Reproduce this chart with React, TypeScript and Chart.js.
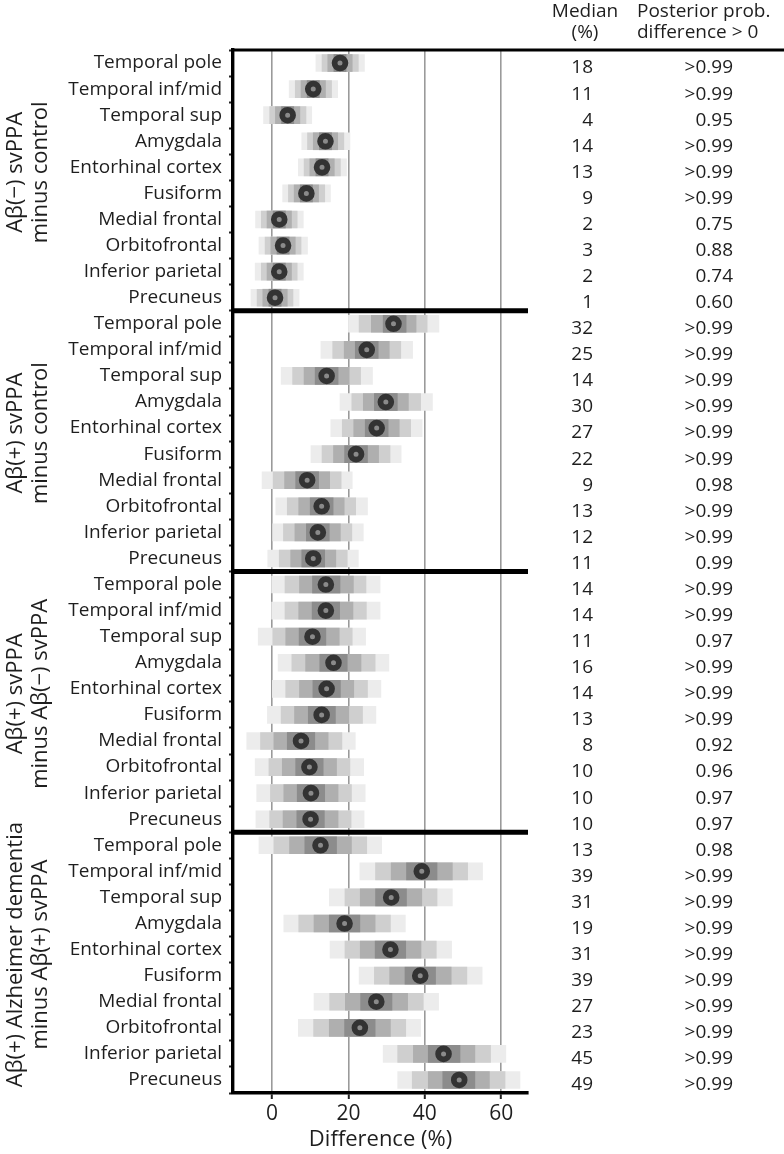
import React, { useEffect, useRef } from "react";
import { Chart, registerables } from "chart.js";
Chart.register(...registerables);

const regions = [
  "Temporal pole", "Temporal inf/mid", "Temporal sup", "Amygdala", "Entorhinal cortex",
  "Fusiform", "Medial frontal", "Orbitofrontal", "Inferior parietal", "Precuneus",
];
const comparisons = [
  ["Aβ(−) svPPA", "minus control"],
  ["Aβ(+) svPPA", "minus control"],
  ["Aβ(+) svPPA", "minus Aβ(−) svPPA"],
  ["Aβ(+) Alzheimer dementia", "minus Aβ(+) svPPA"],
];
const xTicks = [0, 20, 40, 60];

const median = [
  17.8, 10.8, 4.1, 14.0, 13.1, 9.0, 1.9, 2.9, 1.9, 0.8,
  31.8, 24.8, 14.3, 29.8, 27.4, 22.0, 9.2, 13.0, 12.0, 10.8,
  14.1, 14.1, 10.6, 16.1, 14.3, 13.0, 7.6, 9.8, 10.2, 10.1,
  12.7, 39.2, 31.2, 19.0, 31.0, 38.8, 27.3, 23.0, 44.9, 49.0,
];
const lo95 = [
  11.5, 4.5, -2.2, 7.8, 6.9, 2.8, -4.3, -3.4, -4.4, -5.5,
  20.0, 12.8, 2.4, 17.8, 15.4, 10.2, -2.6, 1.0, 0.0, -1.1,
  -0.1, -0.1, -3.6, 1.6, 0.1, -1.2, -6.6, -4.4, -4.0, -4.2,
  -3.4, 23.0, 15.0, 3.1, 15.2, 22.8, 11.0, 6.9, 29.1, 32.9,
];
const lo90 = [
  13.1, 6.1, -0.6, 9.3, 8.4, 4.3, -2.8, -1.8, -2.8, -3.9,
  22.8, 15.9, 5.4, 20.9, 18.4, 13.1, 0.3, 4.0, 3.0, 1.9,
  3.4, 3.4, 0.0, 5.2, 3.6, 2.4, -3.0, -0.8, -0.4, -0.6,
  0.5, 27.1, 19.1, 7.0, 19.1, 26.8, 15.1, 10.9, 32.9, 36.7,
];
const lo80 = [
  14.6, 7.6, 0.9, 10.8, 9.9, 5.8, -1.3, -0.3, -1.3, -2.4,
  26.0, 18.9, 8.4, 23.9, 21.4, 16.1, 3.3, 7.0, 6.0, 4.9,
  7.2, 7.0, 3.6, 8.8, 7.2, 5.9, 0.5, 2.7, 3.1, 2.9,
  4.6, 31.2, 23.1, 11.0, 23.1, 30.8, 19.2, 15.0, 37.0, 40.9,
];
const lo50 = [
  16.2, 9.2, 2.5, 12.4, 11.5, 7.4, 0.3, 1.3, 0.3, -0.8,
  29.1, 21.8, 11.3, 26.8, 24.4, 19.0, 6.2, 10.0, 9.0, 7.8,
  10.6, 10.5, 7.1, 12.5, 10.7, 9.5, 4.0, 6.2, 6.6, 6.5,
  8.6, 35.2, 27.1, 15.0, 27.0, 34.8, 23.2, 19.0, 40.9, 44.7,
];
const hi50 = [
  19.4, 12.4, 5.7, 15.6, 14.7, 10.6, 3.5, 4.5, 3.5, 2.4,
  35.1, 27.8, 17.3, 32.8, 30.4, 25.0, 12.2, 16.0, 15.0, 13.8,
  17.8, 17.7, 14.1, 19.7, 17.9, 16.6, 11.2, 13.4, 13.8, 13.7,
  16.9, 43.2, 35.2, 23.0, 35.0, 42.8, 31.4, 27.0, 49.2, 53.1,
];
const hi80 = [
  21.0, 14.0, 7.3, 17.2, 16.3, 12.2, 5.1, 6.1, 5.1, 4.0,
  37.7, 30.7, 20.2, 35.7, 33.3, 27.9, 15.1, 18.9, 17.9, 16.7,
  21.3, 21.2, 17.6, 23.3, 21.4, 20.1, 14.7, 16.9, 17.3, 17.3,
  20.8, 47.2, 39.2, 27.0, 39.0, 46.9, 35.5, 31.0, 53.1, 56.9,
];
const hi90 = [
  22.6, 15.6, 8.9, 18.8, 17.9, 13.8, 6.6, 7.6, 6.6, 5.5,
  40.6, 33.7, 23.2, 38.9, 36.3, 30.9, 18.1, 21.9, 20.9, 19.7,
  24.6, 24.7, 21.0, 27.0, 25.0, 23.7, 18.3, 20.4, 20.8, 20.7,
  24.8, 51.2, 43.2, 31.0, 43.0, 51.0, 39.6, 35.0, 57.2, 61.0,
];
const hi95 = [
  24.2, 17.2, 10.4, 20.4, 19.5, 15.3, 8.2, 9.3, 8.2, 7.1,
  43.7, 36.8, 26.3, 42.0, 39.3, 33.8, 21.0, 25.0, 23.9, 22.6,
  28.3, 28.3, 24.5, 30.6, 28.5, 27.2, 21.8, 24.0, 24.4, 24.1,
  28.7, 55.1, 47.2, 34.9, 47.0, 55.0, 43.6, 38.9, 61.2, 64.9,
];
const medianText = [
  "18", "11", "4", "14", "13", "9", "2", "3", "2", "1",
  "32", "25", "14", "30", "27", "22", "9", "13", "12", "11",
  "14", "14", "11", "16", "14", "13", "8", "10", "10", "10",
  "13", "39", "31", "19", "31", "39", "27", "23", "45", "49",
];
const probText = [
  ">0.99", ">0.99", "0.95", ">0.99", ">0.99", ">0.99", "0.75", "0.88", "0.74", "0.60",
  ">0.99", ">0.99", ">0.99", ">0.99", ">0.99", ">0.99", "0.98", ">0.99", ">0.99", "0.99",
  ">0.99", ">0.99", "0.97", ">0.99", ">0.99", ">0.99", "0.92", "0.96", "0.97", "0.97",
  "0.98", ">0.99", ">0.99", ">0.99", ">0.99", ">0.99", ">0.99", ">0.99", ">0.99", ">0.99",
];

const FONT = '"Open Sans", "Noto Sans", sans-serif';
const TEXT = "#1e1e1e";

const overlay = {
  id: "overlay",
  afterDraw(chart: any) {
    const ctx = chart.ctx;
    const { left, right, top } = chart.chartArea;
    const ys = chart.scales.y;
    ctx.save();
    ctx.fillStyle = "#000";
    // top rule across plot and table
    ctx.fillRect(left - 1.5, top - 1.5, 784 - left + 1.5, 3);
    // panel separators
    for (let p = 1; p < comparisons.length; p++) {
      const yy = (ys.getPixelForValue(p * 10 - 1) + ys.getPixelForValue(p * 10)) / 2;
      ctx.fillRect(left - 1.5, yy - 2.5, right - left + 1.5, 5);
    }
    // group titles
    ctx.fillStyle = TEXT;
    ctx.font = `22px ${FONT}`;
    ctx.textAlign = "center";
    ctx.textBaseline = "middle";
    comparisons.forEach((lines, p) => {
      const yc = (ys.getPixelForValue(p * 10) + ys.getPixelForValue(p * 10 + 9)) / 2 - 8;
      const xs = [16, 41];
      lines.forEach((t, k) => {
        ctx.save();
        ctx.translate(xs[k], yc);
        ctx.rotate(-Math.PI / 2);
        ctx.fillText(t, 0, 0);
        ctx.restore();
      });
    });
    // table header
    ctx.font = `19px ${FONT}`;
    ctx.textAlign = "center";
    ctx.fillText("Median", 585, 12);
    ctx.fillText("(%)", 585, 33);
    ctx.textAlign = "left";
    ctx.fillText("Posterior prob.", 637, 12);
    ctx.fillText("difference > 0", 637, 33);
    // table rows
    ctx.textAlign = "right";
    for (let i = 0; i < median.length; i++) {
      const y = ys.getPixelForValue(i) + 5;
      ctx.fillText(medianText[i], 593, y);
      ctx.fillText(probText[i], 733, y);
    }
    ctx.restore();
  },
};

export default function App() {
  const ref = useRef<HTMLCanvasElement | null>(null);
  useEffect(() => {
    document.body.style.margin = "0";
    const labels = comparisons.flatMap(() => regions);
    const pair = (a: number[], b: number[]) => a.map((v, i) => [v, b[i]]);
    const barBase = { grouped: false, barThickness: 17, borderWidth: 0 };
    const chart = new Chart(ref.current as HTMLCanvasElement, {
      type: "bar",
      data: {
        labels,
        datasets: [
          {
            type: "line",
            label: "Median",
            data: median,
            indexAxis: "y",
            showLine: false,
            pointRadius: 5.4,
            pointHoverRadius: 5.4,
            pointBorderWidth: 5.8,
            pointBackgroundColor: "#8a8a8a",
            pointBorderColor: "#333333",
            order: 0,
          } as any,
          { label: "50%", data: pair(lo50, hi50), backgroundColor: "#8c8c8c", order: 1, ...barBase },
          { label: "80%", data: pair(lo80, hi80), backgroundColor: "#afafaf", order: 2, ...barBase },
          { label: "90%", data: pair(lo90, hi90), backgroundColor: "#cfcfcf", order: 3, ...barBase },
          { label: "95%", data: pair(lo95, hi95), backgroundColor: "#ececec", order: 4, ...barBase },
        ] as any,
      },
      options: {
        indexAxis: "y",
        animation: false,
        responsive: false,
        devicePixelRatio: 1,
        layout: { padding: { top: 50, right: 256, left: 0, bottom: 0 } },
        plugins: { legend: { display: false }, tooltip: { enabled: false } },
        scales: {
          x: {
            type: "linear",
            min: -10.2,
            max: 67,
            afterBuildTicks: (s: any) => {
              s.ticks = xTicks.map((v) => ({ value: v }));
            },
            afterFit: (s: any) => {
              s.height = 61;
            },
            grid: { color: "#9a9a9a", lineWidth: 1.6, tickColor: "#222", tickWidth: 2, tickLength: 6 },
            border: { display: true, color: "#000", width: 3.4 },
            ticks: { font: { family: FONT, size: 21 }, color: TEXT, padding: 2, maxRotation: 0, autoSkip: false },
            title: { display: true, text: "Difference (%)", font: { family: FONT, size: 22 }, color: TEXT, padding: { top: 0, bottom: 1 } },
          },
          y: {
            type: "category",
            afterFit: (s: any) => {
              s.width = 233;
            },
            grid: { drawOnChartArea: false, tickColor: "#222", tickWidth: 2, tickLength: 4 },
            border: { display: true, color: "#000", width: 3.4 },
            ticks: { font: { family: FONT, size: 19 }, color: TEXT, padding: 7, autoSkip: false },
          },
        },
      } as any,
      plugins: [overlay],
    });
    return () => chart.destroy();
  }, []);
  return <canvas ref={ref} width={784} height={1154} style={{ display: "block" }} />;
}
